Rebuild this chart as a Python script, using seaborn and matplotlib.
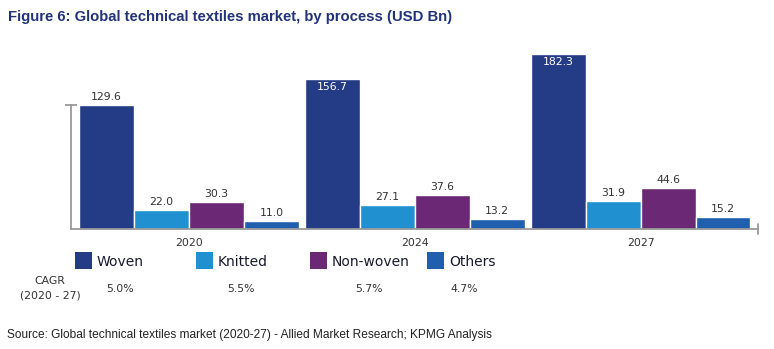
import matplotlib
matplotlib.use("Agg")
import matplotlib.pyplot as plt
from matplotlib.patches import Rectangle
import seaborn as sns
import pandas as pd

# Market size by process (USD Bn)
years = ["2020", "2024", "2027"]
processes = ["Woven", "Knitted", "Non-woven", "Others"]
woven = [129.6, 156.7, 182.3]
knitted = [22.0, 27.1, 31.9]
non_woven = [30.3, 37.6, 44.6]
others = [11.0, 13.2, 15.2]
cagr = ["5.0%", "5.5%", "5.7%", "4.7%"]
colors = ["#243B86", "#2190D0", "#6B2874", "#1F5FAD"]

title = "Figure 6: Global technical textiles market, by process (USD Bn)"
source = "Source: Global technical textiles market (2020-27) - Allied Market Research; KPMG Analysis"

series = [woven, knitted, non_woven, others]
df = pd.DataFrame(
    [(y, p, v) for p, vals in zip(processes, series) for y, v in zip(years, vals)],
    columns=["year", "process", "value"],
)

sns.set_style("white")
narrow = ["DejaVu Sans Condensed", "DejaVu Sans"]
plt.rcParams["font.family"] = narrow

W, H = 774, 349
fig = plt.figure(figsize=(W / 100, H / 100), dpi=100)
base_px = 228.5
top_px = 45
ax = fig.add_axes([71 / W, (H - base_px) / H, 687 / W, (base_px - top_px) / H])

sns.barplot(
    data=df, x="year", y="value", hue="process", hue_order=processes,
    order=years, palette=colors, width=0.973, gap=0, legend=False,
    edgecolor="white", linewidth=1.0, saturation=1, ax=ax,
)

ymin = 3.3
ax.set_ylim(ymin, ymin + (base_px - top_px) / 0.975)
ax.set_xlim(-0.523, 2.52)
ax.set_xlabel("")
ax.set_ylabel("")

# Value labels: inside the tall bars in white, above the others
lab_size = 7.8
for cont, vals in zip(ax.containers, series):
    for bar, v in zip(cont.patches, vals):
        xc = bar.get_x() + bar.get_width() / 2
        if v > 150:
            ax.annotate(f"{v:.1f}", (xc, v), xytext=(0, -8), textcoords="offset pixels",
                        ha="center", va="center", color="white", fontsize=lab_size)
        else:
            ax.annotate(f"{v:.1f}", (xc, v), xytext=(0, 3), textcoords="offset pixels",
                        ha="center", va="bottom", color="#333333", fontsize=lab_size)

# Axis styling
for s in ["top", "right"]:
    ax.spines[s].set_visible(False)
axis_col = "#9a9a9a"
ax.spines["left"].set_color(axis_col)
ax.spines["bottom"].set_color(axis_col)
ax.spines["left"].set_linewidth(1.3)
ax.spines["bottom"].set_linewidth(1.3)
ax.spines["left"].set_bounds(ymin, 130)
ax.set_yticks([130])
ax.set_yticklabels([])
ax.tick_params(axis="y", direction="inout", length=8, width=1.3, color=axis_col, left=True)
ax.tick_params(axis="x", length=0, pad=7, labelsize=lab_size, labelcolor="#333333")
ax.plot([1, 1], [-0.03, 0.025], transform=ax.transAxes, color=axis_col, lw=1.3, clip_on=False)

# Legend row with CAGR figures underneath
sq = 17
legend_x = [75, 196, 310, 427]
cagr_x = [120, 241, 369, 464]
for lx, cx, name, col, g in zip(legend_x, cagr_x, processes, colors, cagr):
    fig.add_artist(Rectangle((lx / W, (H - 269) / H), sq / W, sq / H,
                             transform=fig.transFigure, color=col, lw=0))
    fig.text((lx + sq + 5) / W, (H - 262) / H, name, fontsize=10,
             ha="left", va="center", color="#1a1a2e")
    fig.text(cx / W, (H - 289) / H, g, fontsize=lab_size, ha="center", va="center", color="#333333")

fig.text(50 / W, (H - 281) / H, "CAGR", fontsize=lab_size, ha="center", va="center", color="#333333")
fig.text(50 / W, (H - 296) / H, "(2020 - 27)", fontsize=lab_size, ha="center", va="center", color="#333333")

fig.text(8 / W, (H - 17) / H, title, fontsize=10.7, fontweight="bold", ha="left", va="center",
         color="#22337A", family=["Liberation Sans", "DejaVu Sans"])
fig.text(7 / W, (H - 335) / H, source, fontsize=8.6, ha="left", va="center",
         color="#222222", family=["Liberation Sans", "DejaVu Sans"])

fig.savefig("out.png", dpi=100)
